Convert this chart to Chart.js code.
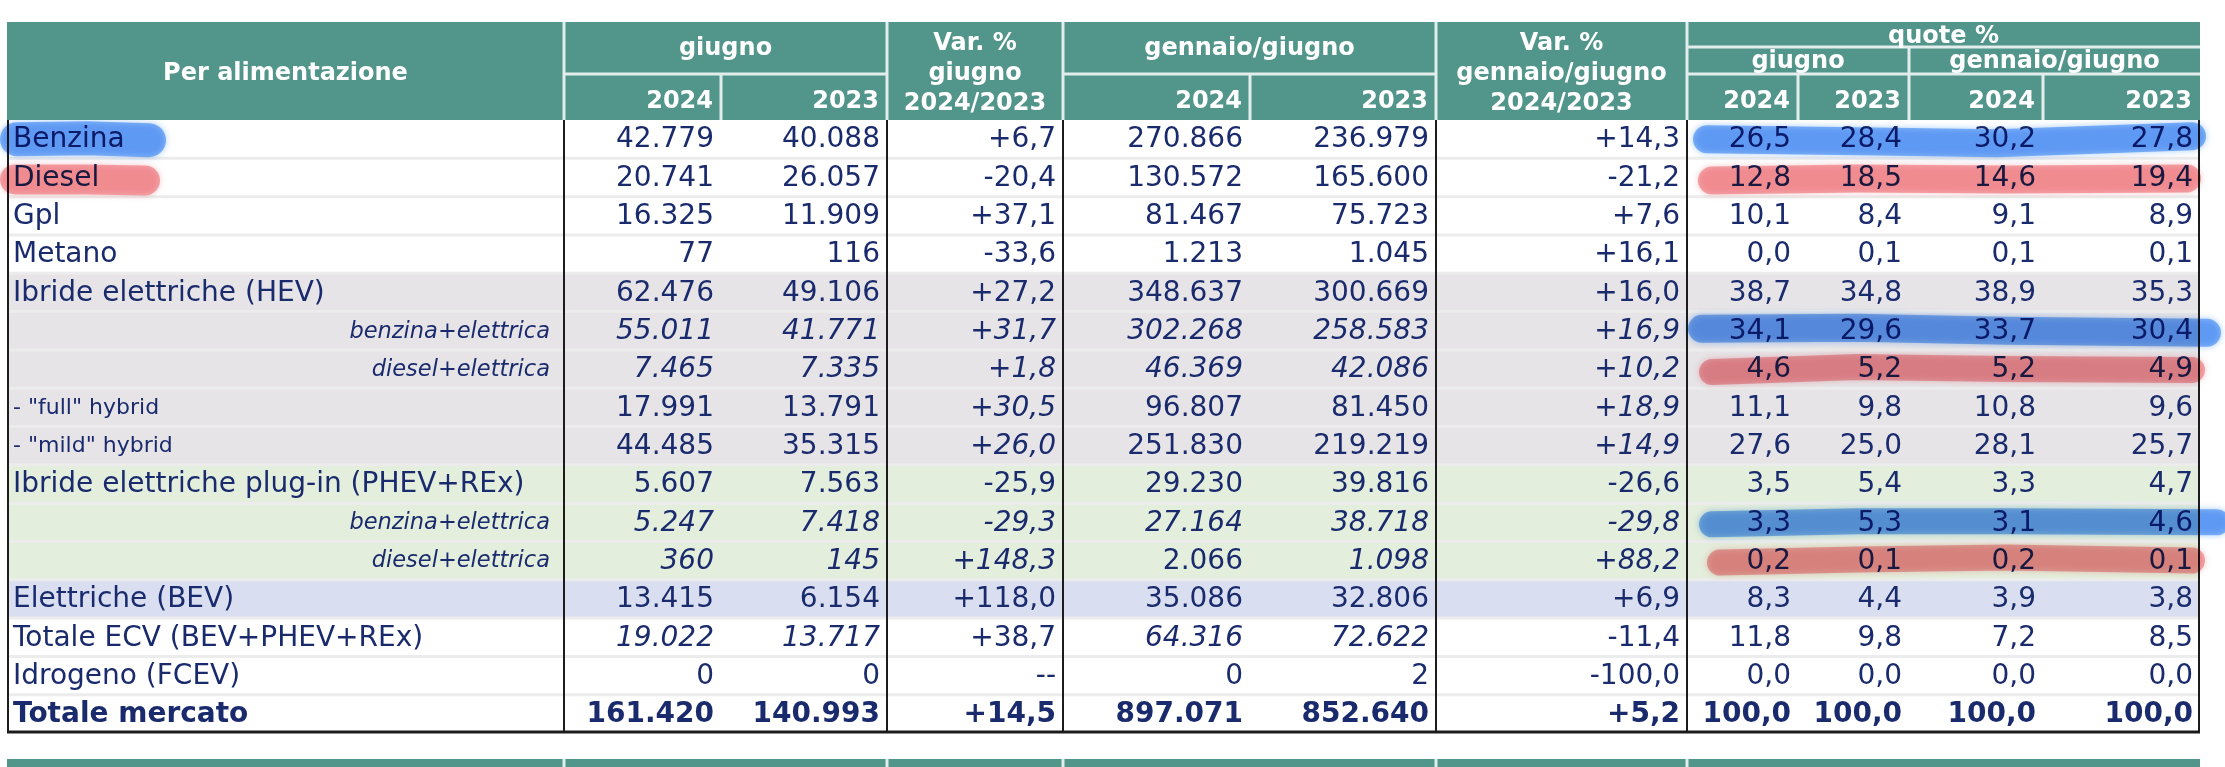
<!DOCTYPE html>
<html lang="it">
<head>
<meta charset="utf-8">
<title>Per alimentazione</title>
<script src="https://cdn.jsdelivr.net/npm/chart.js@4.4.1/dist/chart.umd.min.js"></script>
<style>
  html, body { margin: 0; padding: 0; background: #fff; }
  canvas { display: block; }
</style>
</head>
<body>
<canvas id="tabella" width="2225" height="767"></canvas>
<script>
// righe della tabella
const categories = ["Benzina", "Diesel", "Gpl", "Metano", "Ibride elettriche (HEV)", "benzina+elettrica",
  "diesel+elettrica", "- \"full\" hybrid", "- \"mild\" hybrid", "Ibride elettriche plug-in (PHEV+REx)",
  "benzina+elettrica", "diesel+elettrica", "Elettriche (BEV)", "Totale ECV (BEV+PHEV+REx)",
  "Idrogeno (FCEV)", "Totale mercato"];

const giugno2024 = [42779, 20741, 16325, 77, 62476, 55011, 7465, 17991, 44485, 5607, 5247, 360, 13415, 19022, 0, 161420];
const giugno2023 = [40088, 26057, 11909, 116, 49106, 41771, 7335, 13791, 35315, 7563, 7418, 145, 6154, 13717, 0, 140993];
const varGiugno = [6.7, -20.4, 37.1, -33.6, 27.2, 31.7, 1.8, 30.5, 26.0, -25.9, -29.3, 148.3, 118.0, 38.7, null, 14.5];
const genGiu2024 = [270866, 130572, 81467, 1213, 348637, 302268, 46369, 96807, 251830, 29230, 27164, 2066, 35086, 64316, 0, 897071];
const genGiu2023 = [236979, 165600, 75723, 1045, 300669, 258583, 42086, 81450, 219219, 39816, 38718, 1098, 32806, 72622, 2, 852640];
const varGenGiu = [14.3, -21.2, 7.6, 16.1, 16.0, 16.9, 10.2, 18.9, 14.9, -26.6, -29.8, 88.2, 6.9, -11.4, -100.0, 5.2];
const quotaGiu2024 = [26.5, 12.8, 10.1, 0.0, 38.7, 34.1, 4.6, 11.1, 27.6, 3.5, 3.3, 0.2, 8.3, 11.8, 0.0, 100.0];
const quotaGiu2023 = [28.4, 18.5, 8.4, 0.1, 34.8, 29.6, 5.2, 9.8, 25.0, 5.4, 5.3, 0.1, 4.4, 9.8, 0.0, 100.0];
const quotaGen2024 = [30.2, 14.6, 9.1, 0.1, 38.9, 33.7, 5.2, 10.8, 28.1, 3.3, 3.1, 0.2, 3.9, 7.2, 0.0, 100.0];
const quotaGen2023 = [27.8, 19.4, 8.9, 0.1, 35.3, 30.4, 4.9, 9.6, 25.7, 4.7, 4.6, 0.1, 3.8, 8.5, 0.0, 100.0];

// --- layout / stile (fuori dai dati) ---
const TABLE_W = 2193;
const colEdges = [0, 557, 714, 880, 1056, 1243, 1429, 1680, 1791, 1902, 2036, 2193];
const groupEdges = [557, 880, 1056, 1429, 1680];
const HEAD_TOP = 22;
const TEAL = "#52958a";
const HEAD_LINE = "#e2eeeb";
const INK = "#1a2b6d";
const BODY_FONT = '28px "DejaVu Sans"';

const GRAY = "#e6e4e7", GREEN = "#e4eedc", BLUE = "#d9dff1", WHITE = "#ffffff";
const rowFill = [WHITE, WHITE, WHITE, WHITE, GRAY, GRAY, GRAY, GRAY, GRAY, GREEN, GREEN, GREEN, BLUE, WHITE, WHITE, WHITE];
const rowKind = ["main", "main", "main", "main", "main", "sub", "sub", "minor", "minor", "main", "sub", "sub", "main", "main", "main", "total"];
// celle in corsivo: riga -> colonne (1..10)
const italicCells = { 5: [1, 2, 3, 4, 5, 6], 6: [1, 2, 3, 4, 5, 6], 7: [3, 6], 8: [3, 6],
  10: [1, 2, 3, 4, 5, 6], 11: [1, 2, 3, 5, 6], 13: [1, 2, 4, 5] };

// evidenziatore a mano
const HL_BLUE = "rgba(112,172,246,0.78)", HL_RED = "rgba(242,138,144,0.68)";
const marks = [
  { row: 0, pts: [[10, 0], [80, -1], [142, 1]], w: 34, color: HL_BLUE },
  { row: 1, pts: [[8, 2], [80, 2], [138, 3]], w: 30, color: HL_RED },
  { row: 0, pts: [[1700, 0], [1850, 2], [1990, 4], [2185, -3]], w: 28, color: HL_BLUE },
  { row: 1, pts: [[1705, 3], [1850, 1], [2000, 2], [2180, 1]], w: 28, color: HL_RED },
  { row: 5, pts: [[1695, -2], [1850, -3], [2000, 0], [2200, 2]], w: 28, color: HL_BLUE },
  { row: 6, pts: [[1705, 3], [1850, -2], [2000, 0], [2185, 1]], w: 26, color: HL_RED },
  { row: 10, pts: [[1705, 2], [1850, -1], [2000, -1], [2210, 0]], w: 26, color: HL_BLUE },
  { row: 11, pts: [[1713, 2], [1850, -1], [2000, -3], [2185, 0]], w: 26, color: HL_RED }
];

function fmtInt(n) {
  return String(n).replace(/\B(?=(\d{3})+(?!\d))/g, ".");
}
function fmtVar(v) {
  if (v === null) return "--";
  return (v > 0 ? "+" : "") + v.toFixed(1).replace(".", ",");
}
function fmtQuota(v) {
  return v.toFixed(1).replace(".", ",");
}

const columns = [
  [giugno2024, fmtInt], [giugno2023, fmtInt], [varGiugno, fmtVar],
  [genGiu2024, fmtInt], [genGiu2023, fmtInt], [varGenGiu, fmtVar],
  [quotaGiu2024, fmtQuota], [quotaGiu2023, fmtQuota], [quotaGen2024, fmtQuota], [quotaGen2023, fmtQuota]
];

function line(ctx, x0, y0, x1, y1) {
  ctx.beginPath();
  ctx.moveTo(x0, y0);
  ctx.lineTo(x1, y1);
  ctx.stroke();
}

const tablePlugin = {
  id: "tabella",
  afterDatasetsDraw(chart) {
    const { ctx, chartArea: a, scales: { x, y } } = chart;
    const X = v => x.getPixelForValue(v);
    ctx.save();

    // separatori di riga
    ctx.strokeStyle = "#ececec";
    ctx.lineWidth = 3;
    for (let i = 1; i < categories.length; i++) {
      const yy = (y.getPixelForValue(i - 1) + y.getPixelForValue(i)) / 2;
      line(ctx, a.left, yy, a.right, yy);
    }

    // testo
    ctx.fillStyle = INK;
    ctx.textBaseline = "middle";
    categories.forEach((label, r) => {
      const py = y.getPixelForValue(r) + 1;
      const kind = rowKind[r];
      if (kind === "sub") {
        ctx.font = 'italic 22.5px "DejaVu Sans"';
        ctx.textAlign = "right";
        ctx.fillText(label, X(colEdges[1]) - 14, py);
      } else {
        ctx.font = kind === "minor" ? '22px "DejaVu Sans"' : kind === "total" ? "bold " + BODY_FONT : BODY_FONT;
        ctx.textAlign = "left";
        ctx.fillText(label, X(0) + 6, py);
      }
      const ital = italicCells[r] || [];
      columns.forEach(([vals, fmt], c) => {
        const style = kind === "total" ? "bold " : ital.includes(c + 1) ? "italic " : "";
        ctx.font = style + BODY_FONT;
        ctx.textAlign = "right";
        ctx.fillText(fmt(vals[r]), X(colEdges[c + 2]) - 7, py);
      });
    });

    // bordi scuri
    ctx.strokeStyle = "#1c1c1c";
    ctx.lineWidth = 2;
    groupEdges.forEach(e => line(ctx, X(e), a.top, X(e), a.bottom));
    line(ctx, a.left + 1, a.top, a.left + 1, a.bottom);
    line(ctx, a.right - 1, a.top, a.right - 1, a.bottom);
    ctx.lineWidth = 3;
    line(ctx, a.left, a.bottom - 1, a.right, a.bottom - 1);

    // evidenziatore
    ctx.globalCompositeOperation = "multiply";
    ctx.lineCap = "round";
    ctx.lineJoin = "round";
    marks.forEach(m => {
      const yc = y.getPixelForValue(m.row);
      ctx.strokeStyle = m.color;
      ctx.lineWidth = m.w;
      ctx.shadowColor = m.color;
      ctx.shadowBlur = 6;
      ctx.beginPath();
      m.pts.forEach(([vx, dy], i) => {
        if (i === 0) ctx.moveTo(X(vx), yc + dy);
        else ctx.lineTo(X(vx), yc + dy);
      });
      ctx.stroke();
    });
    ctx.restore();
  },

  afterDraw(chart) {
    const { ctx, chartArea: a, scales: { x } } = chart;
    const X = v => x.getPixelForValue(v);
    const top = HEAD_TOP, bot = a.top;
    const mid = 74, q = 47;
    ctx.save();

    // intestazione
    ctx.fillStyle = TEAL;
    ctx.fillRect(X(0), top, X(TABLE_W) - X(0), bot - top);
    ctx.strokeStyle = HEAD_LINE;
    ctx.lineWidth = 3;
    groupEdges.forEach(e => line(ctx, X(e), top, X(e), bot));
    [[557, 880], [1056, 1429], [1680, 2193]].forEach(([s, e]) => line(ctx, X(s), mid, X(e), mid));
    line(ctx, X(1680), q, X(2193), q);
    [714, 1243, 1791, 2036].forEach(e => line(ctx, X(e), mid, X(e), bot));
    line(ctx, X(1902), q, X(1902), bot);

    ctx.fillStyle = "#ffffff";
    ctx.font = 'bold 24px "DejaVu Sans"';
    ctx.textBaseline = "alphabetic";
    ctx.textAlign = "center";
    const cx = (s, e) => (X(s) + X(e)) / 2;
    ctx.fillText("Per alimentazione", cx(0, 557), 80);
    ctx.fillText("giugno", cx(557, 880), 55);
    ctx.fillText("gennaio/giugno", cx(1056, 1429), 55);
    ["Var. %", "giugno", "2024/2023"].forEach((t, i) => ctx.fillText(t, cx(880, 1056), 50 + i * 30));
    ["Var. %", "gennaio/giugno", "2024/2023"].forEach((t, i) => ctx.fillText(t, cx(1429, 1680), 50 + i * 30));
    ctx.fillText("quote %", cx(1680, 2193), 43);
    ctx.fillText("giugno", cx(1680, 1902), 68);
    ctx.fillText("gennaio/giugno", cx(1902, 2193), 68);
    ctx.textAlign = "right";
    const years = ["2024", "2023"];
    [[1, 2], [4, 5], [7, 8], [9, 10]].forEach(pair => {
      pair.forEach((c, i) => ctx.fillText(years[i], X(colEdges[c + 1]) - 8, 108));
    });

    // intestazione della tabella successiva
    ctx.fillStyle = TEAL;
    ctx.fillRect(X(0), 759, X(TABLE_W) - X(0), 767 - 759);
    groupEdges.forEach(e => line(ctx, X(e), 759, X(e), 767));
    ctx.restore();
  }
};

new Chart(document.getElementById("tabella"), {
  type: "bar",
  data: {
    labels: categories,
    datasets: [{
      data: categories.map(() => [0, TABLE_W]),
      backgroundColor: rowFill,
      borderWidth: 0,
      borderSkipped: false,
      barPercentage: 1,
      categoryPercentage: 1
    }]
  },
  options: {
    indexAxis: "y",
    responsive: false,
    animation: false,
    devicePixelRatio: 1,
    events: [],
    layout: { padding: { left: 7, right: 25, top: 120, bottom: 34 } },
    scales: {
      x: { type: "linear", min: 0, max: TABLE_W, display: false },
      y: { type: "category", display: false, offset: true }
    },
    plugins: { legend: { display: false }, tooltip: { enabled: false } }
  },
  plugins: [tablePlugin]
});
</script>
</body>
</html>
